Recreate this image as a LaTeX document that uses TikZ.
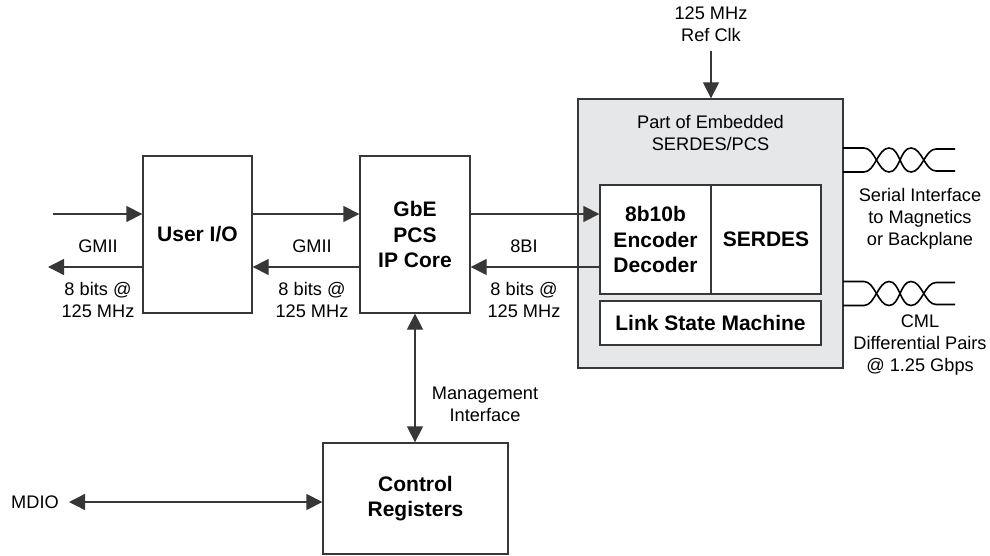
\documentclass[tikz,border=0pt]{standalone}
\usepackage{fontspec}
\setmainfont{Liberation Sans}
\usetikzlibrary{arrows.meta}

\definecolor{panelgrey}{RGB}{230,231,232}
\definecolor{linegrey}{RGB}{55,55,55}

\newcommand{\txtfont}{\fontsize{18.2}{22}\selectfont}
\newcommand{\blkfont}{\fontsize{21}{25.5}\selectfont\bfseries}
\newcommand{\blk}{\node[draw=linegrey, line width=1.3pt, font=\blkfont, align=center, inner sep=0pt]}
\newcommand{\lbl}{\node[font=\txtfont, align=center, inner sep=0pt]}

% twisted pair, centred on y = #1
\newcommand{\twistpair}[1]{%
  \begin{scope}[shift={(0,#1)}]
    \draw[wire] (843,-12) -- (864,-12)
      .. controls (875,-12) and (878,12) .. (889,12)
      .. controls (900,12) and (900,-12) .. (911,-12)
      .. controls (922,-12) and (925,11) .. (936,11) -- (955,11);
    \draw[wire] (843,12) -- (864,12)
      .. controls (875,12) and (878,-12) .. (889,-12)
      .. controls (900,-12) and (900,12) .. (911,12)
      .. controls (922,12) and (925,-11) .. (936,-11) -- (955,-11);
  \end{scope}}

\tikzset{
  tip/.tip={Triangle[length=16pt, width=16pt]},
  sig/.style={draw=linegrey, line width=1.3pt, -tip},
  bisig/.style={draw=linegrey, line width=1.3pt, tip-tip},
  wire/.style={draw=black, line width=1.6pt},
}

\begin{document}
\begin{tikzpicture}[x=1pt, y=-1pt]
  \useasboundingbox (0,0) rectangle (990,556);

  % blocks
  \blk[minimum width=109pt, minimum height=157pt] (userio) at (197.5,234.5) {User I/O};
  \blk[minimum width=110pt, minimum height=157pt] (pcs) at (415,234.5) {GbE\\PCS\\IP Core};
  \node[draw=linegrey, fill=panelgrey, line width=1.3pt, minimum width=265pt, minimum height=269pt] (serdesblk) at (710.5,233.5) {};
  \blk[fill=white, minimum width=111pt, minimum height=109pt] (codec) at (655.5,239.5) {8b10b\\Encoder\\Decoder};
  \blk[fill=white, minimum width=110pt, minimum height=109pt] (serdes) at (766,239.5) {SERDES};
  \blk[fill=white, minimum width=221pt, minimum height=44pt] (lsm) at (710.5,323) {Link State Machine};
  \blk[minimum width=185pt, minimum height=111pt] (ctrl) at (415.5,498.5) {Control\\Registers};

  % labels
  \lbl (refclk) at (711,24.5) {125 MHz\\Ref Clk};
  \lbl (embedded) at (710.5,133) {Part of Embedded\\SERDES/PCS};
  \lbl (gmiia) at (98,246) {GMII};
  \lbl (ratea) at (98,300) {8 bits @\\125 MHz};
  \lbl (gmiib) at (312,246) {GMII};
  \lbl (rateb) at (312,300) {8 bits @\\125 MHz};
  \lbl (tbi) at (524,246) {8BI};
  \lbl (ratec) at (524,300) {8 bits @\\125 MHz};
  \lbl (serial) at (920,219) {Serial Interface\\to Magnetics\\or Backplane};
  \lbl (cml) at (920,345.5) {CML\\Differential Pairs\\@ 1.25 Gbps};
  \lbl (mgmt) at (485,404) {Management\\Interface};
  \lbl (mdio) at (35,502) {MDIO};

  \coordinate (txrow) at (0,214);
  \coordinate (rxrow) at (0,267);
  \coordinate (gmiiin) at (53,214);
  \coordinate (gmiiout) at (48,267);
  \coordinate (clkin) at (711,51);
  \coordinate (mdioend) at (69,502);

  % connectors
  \draw[sig] (gmiiin) -- (userio.west |- gmiiin);
  \draw[sig] (userio.west |- rxrow) -- (gmiiout);
  \draw[sig] (userio.east |- txrow) -- (pcs.west |- txrow);
  \draw[sig] (pcs.west |- rxrow) -- (userio.east |- rxrow);
  \draw[sig] (pcs.east |- txrow) -- (codec.west |- txrow);
  \draw[sig] (codec.west |- rxrow) -- (pcs.east |- rxrow);
  \draw[sig] (clkin) -- (clkin |- serdesblk.north);
  \draw[bisig] (pcs.south) -- (pcs.south |- ctrl.north);
  \draw[bisig] (mdioend) -- (ctrl.west |- mdioend);

  \twistpair{160}
  \twistpair{293.5}
\end{tikzpicture}
\end{document}
